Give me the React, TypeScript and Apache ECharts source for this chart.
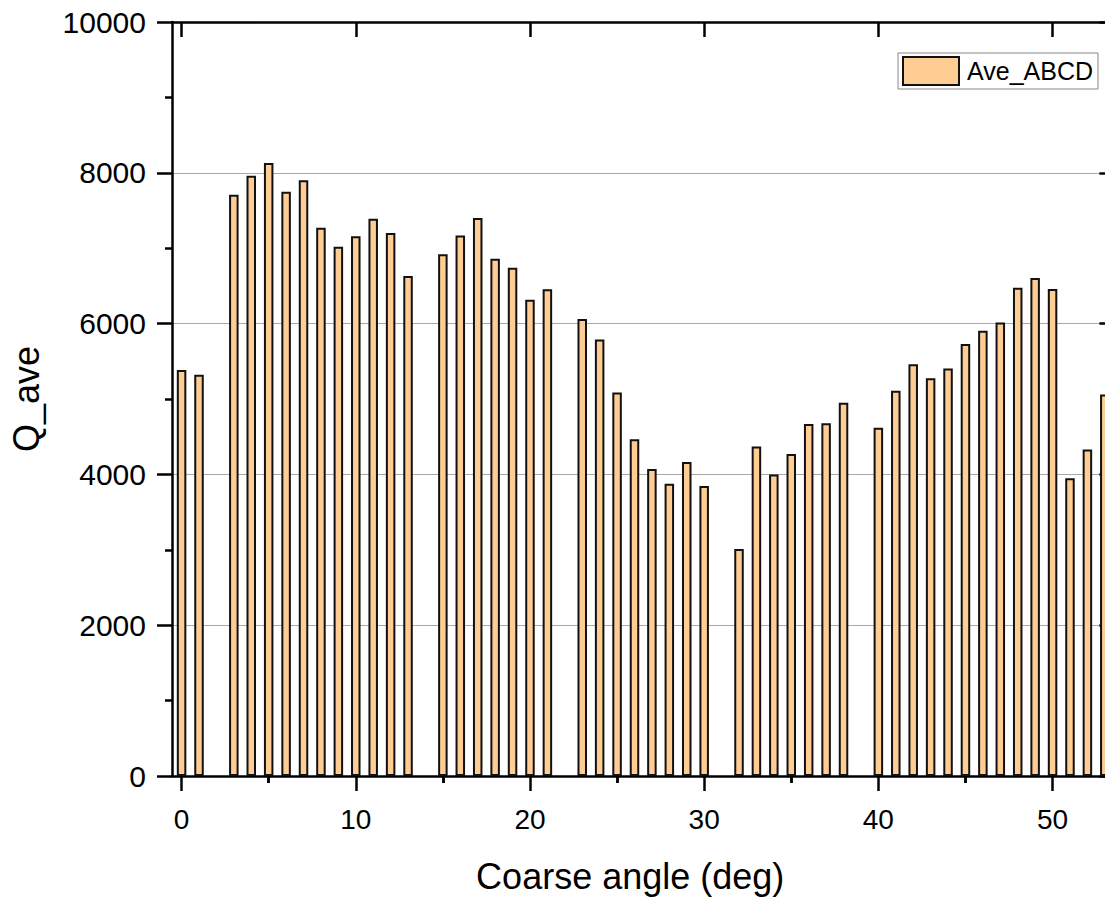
import React, { useEffect, useRef } from "react";
import * as echarts from "echarts";

const angles = [
  0, 1, 3, 4, 5, 6, 7, 8, 9, 10, 11, 12, 13, 15, 16, 17, 18, 19, 20, 21, 23, 24, 25, 26, 27, 28, 29, 30,
  32, 33, 34, 35, 36, 37, 38, 40, 41, 42, 43, 44, 45, 46, 47, 48, 49, 50, 51, 52, 53,
];
const qAve = [
  5385, 5320, 7710, 7960, 8130, 7750, 7900, 7270, 7020, 7160, 7390, 7200, 6630, 6920, 7170, 7400, 6860,
  6740, 6315, 6455, 6060, 5790, 5085, 4465, 4070, 3875, 4165, 3845, 3010, 4370, 4000, 4270, 4670, 4680,
  4950, 4620, 5110, 5460, 5275, 5405, 5730, 5905, 6015, 6475, 6605, 6460, 3950, 4330, 5060,
];
const xMajorTicks = [0, 10, 20, 30, 40, 50];
const xMinorTicks = [5, 15, 25, 35, 45];
const seriesName = "Ave_ABCD";
const xTitle = "Coarse angle (deg)";
const yTitle = "Q_ave";

const FONT = 'Arial, "Liberation Sans", sans-serif';
const X_MIN = -0.55;
const X_MAX = 53.55;

export default function App() {
  const ref = useRef<HTMLDivElement>(null);
  useEffect(() => {
    if (!ref.current) return;
    const chart = echarts.init(ref.current, undefined, { renderer: "svg" });
    const axisLine = { show: true, onZero: false, lineStyle: { color: "#000", width: 2.5 } };
    const baseX = { type: "value", min: X_MIN, max: X_MAX, splitLine: { show: false } };
    chart.setOption({
      animation: false,
      backgroundColor: "#fff",
      grid: { left: 172, top: 22, bottom: 118, right: 10.6, containLabel: false },
      legend: {
        left: 898,
        top: 53,
        padding: [3, 5, 3, 4],
        borderColor: "#888",
        borderWidth: 1,
        itemWidth: 56,
        itemHeight: 28,
        icon: "rect",
        itemStyle: { color: "#FFCC94", borderColor: "#111", borderWidth: 2 },
        textStyle: { fontFamily: FONT, fontSize: 25, color: "#000", padding: [0, 0, 0, 3] },
        data: [seriesName],
      },
      xAxis: [
        {
          ...baseX,
          position: "bottom",
          axisLine,
          axisTick: { show: true, inside: false, length: 15, customValues: xMajorTicks, lineStyle: { color: "#000", width: 2.5 } },
          axisLabel: { show: true, customValues: xMajorTicks, fontSize: 28, fontFamily: FONT, color: "#000", margin: 29 },
          name: xTitle,
          nameLocation: "middle",
          nameGap: 82,
          nameTextStyle: { fontSize: 36, fontFamily: FONT, color: "#000", padding: [0, 26, 0, 0] },
        },
        {
          ...baseX,
          position: "bottom",
          axisLine: { show: false },
          axisTick: { show: true, inside: false, length: 7, customValues: xMinorTicks, lineStyle: { color: "#000", width: 2.5 } },
          axisLabel: { show: false },
        },
        {
          ...baseX,
          position: "top",
          axisLine,
          axisTick: { show: true, inside: true, length: 15, customValues: xMajorTicks, lineStyle: { color: "#000", width: 2.5 } },
          axisLabel: { show: false },
        },
        {
          ...baseX,
          position: "top",
          axisLine: { show: false },
          axisTick: { show: true, inside: true, length: 7, customValues: xMinorTicks, lineStyle: { color: "#000", width: 2.5 } },
          axisLabel: { show: false },
        },
      ],
      yAxis: [
        {
          type: "value",
          position: "left",
          min: 0,
          max: 10000,
          interval: 2000,
          axisLine,
          axisTick: { show: true, inside: false, length: 15, lineStyle: { color: "#000", width: 2.5 } },
          minorTick: { show: true, splitNumber: 2, length: 7, lineStyle: { color: "#000", width: 2.5 } },
          splitLine: { show: true, lineStyle: { color: "#a8a8a8", width: 1.2 } },
          axisLabel: {
            fontSize: 30,
            fontFamily: FONT,
            color: "#000",
            margin: 26,
            showMinLabel: true,
            showMaxLabel: true,
            formatter: (v: number) => String(v),
          },
          name: yTitle,
          nameLocation: "middle",
          nameGap: 128,
          nameTextStyle: { fontSize: 36, fontFamily: FONT, color: "#000" },
        },
        {
          type: "value",
          position: "right",
          min: 0,
          max: 10000,
          interval: 2000,
          axisLine,
          axisTick: { show: true, inside: true, length: 15, lineStyle: { color: "#000", width: 2.5 } },
          minorTick: { show: true, splitNumber: 2, length: 7, lineStyle: { color: "#000", width: 2.5 } },
          splitLine: { show: false },
          axisLabel: { show: false },
        },
      ],
      series: [
        {
          name: seriesName,
          type: "bar",
          xAxisIndex: 0,
          yAxisIndex: 0,
          barWidth: 9.5,
          data: angles.map((a, i) => [a, qAve[i]]),
          itemStyle: { color: "#FFCC94", borderColor: "#111", borderWidth: 2 },
        },
      ],
    });
    return () => chart.dispose();
  }, []);
  return (
    <div style={{ position: "fixed", left: 0, top: 0, width: 1105, height: 899, overflow: "hidden", background: "#fff" }}>
      <div ref={ref} style={{ width: 1125, height: 899 }} />
    </div>
  );
}
